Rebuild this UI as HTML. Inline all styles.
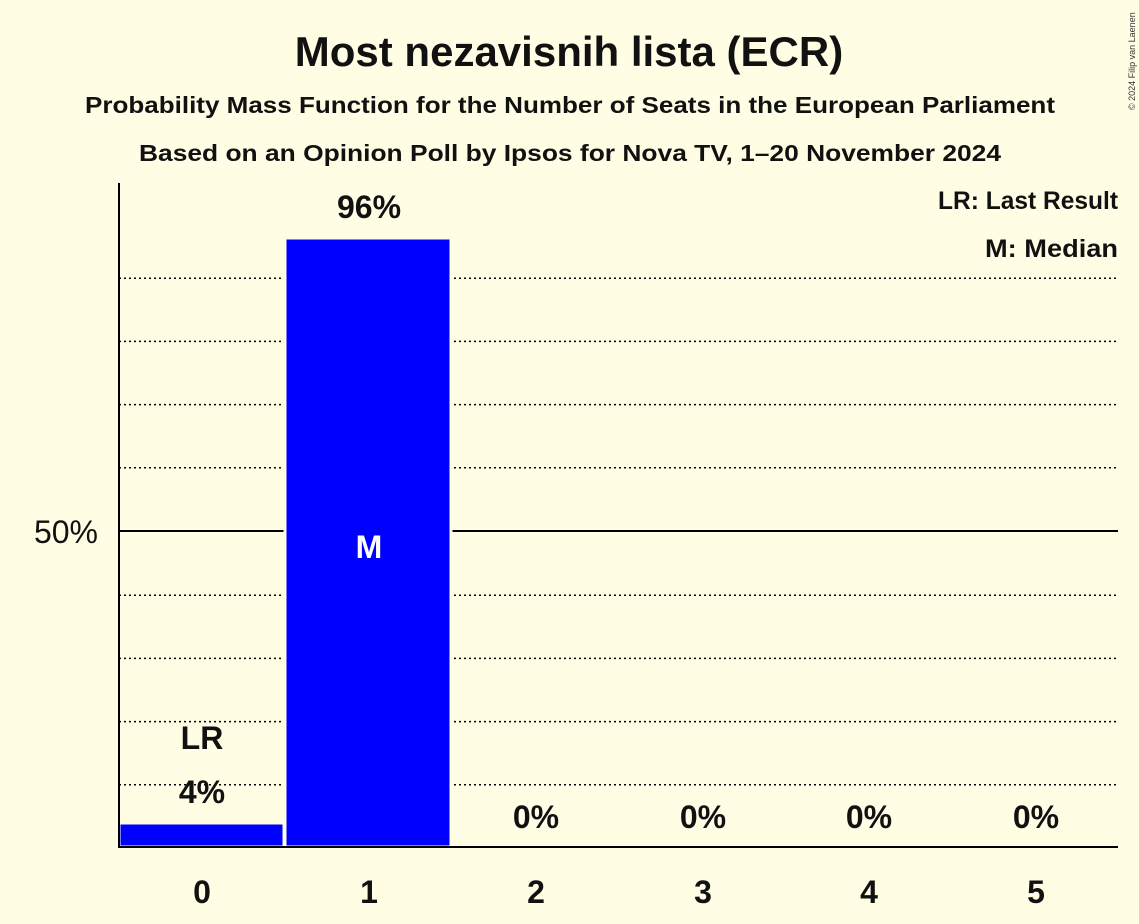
<!DOCTYPE html>
<html><head><meta charset="utf-8"><style>
html,body{margin:0;padding:0;background:#FFFEE5;}
svg{display:block;font-family:"Liberation Sans",sans-serif;}
</style></head><body>
<svg width="1139" height="924" viewBox="0 0 1139 924" xmlns="http://www.w3.org/2000/svg">
<rect width="1139" height="924" fill="#FFFEE5"/>
<text x="569" y="66" text-anchor="middle" font-size="42" font-weight="bold" fill="#111">Most nezavisnih lista (ECR)</text>
<text x="85" y="113" font-size="23" font-weight="bold" fill="#111" textLength="970" lengthAdjust="spacingAndGlyphs">Probability Mass Function for the Number of Seats in the European Parliament</text>
<text x="139" y="161" font-size="23" font-weight="bold" fill="#111" textLength="862" lengthAdjust="spacingAndGlyphs">Based on an Opinion Poll by Ipsos for Nova TV, 1–20 November 2024</text>
<text x="1135" y="110" font-size="9" fill="#333" transform="rotate(-90 1135 110)">© 2024 Filip van Laenen</text>
<g stroke="#000" stroke-width="1.5" stroke-dasharray="2,3">
<line x1="119" x2="1118" y1="784.8" y2="784.8"/>
<line x1="119" x2="1118" y1="721.6" y2="721.6"/>
<line x1="119" x2="1118" y1="658.4" y2="658.4"/>
<line x1="119" x2="1118" y1="595.2" y2="595.2"/>
<line x1="119" x2="1118" y1="467.8" y2="467.8"/>
<line x1="119" x2="1118" y1="404.6" y2="404.6"/>
<line x1="119" x2="1118" y1="341.4" y2="341.4"/>
<line x1="119" x2="1118" y1="278.2" y2="278.2"/>
</g>
<line x1="119" x2="1118" y1="531" y2="531" stroke="#000" stroke-width="2"/>
<rect x="119" y="823" width="165" height="24" fill="#0000FF" stroke="#FFFEE5" stroke-width="3"/>
<rect x="285" y="238" width="166" height="609" fill="#0000FF" stroke="#FFFEE5" stroke-width="3"/>
<line x1="119" x2="119" y1="183" y2="848" stroke="#000" stroke-width="2"/>
<line x1="118" x2="1118" y1="847" y2="847" stroke="#000" stroke-width="2"/>
<text x="98" y="543" text-anchor="end" font-size="32" fill="#111">50%</text>
<g font-size="32" font-weight="bold" fill="#111" text-anchor="middle">
<text x="202" y="903">0</text><text x="369" y="903">1</text><text x="536" y="903">2</text>
<text x="703" y="903">3</text><text x="869" y="903">4</text><text x="1036" y="903">5</text>
</g>
<g font-size="32" font-weight="bold" fill="#111" text-anchor="middle">
<text x="202" y="749">LR</text>
<text x="202" y="803">4%</text>
<text x="369" y="218">96%</text>
<text x="536" y="828">0%</text><text x="703" y="828">0%</text><text x="869" y="828">0%</text><text x="1036" y="828">0%</text>
</g>
<text x="369" y="558" text-anchor="middle" font-size="32" font-weight="bold" fill="#fff">M</text>
<text x="938" y="209" font-size="25" font-weight="bold" fill="#111" textLength="180" lengthAdjust="spacingAndGlyphs">LR: Last Result</text>
<text x="985" y="257" font-size="25" font-weight="bold" fill="#111" textLength="133" lengthAdjust="spacingAndGlyphs">M: Median</text>
</svg>
</body></html>
